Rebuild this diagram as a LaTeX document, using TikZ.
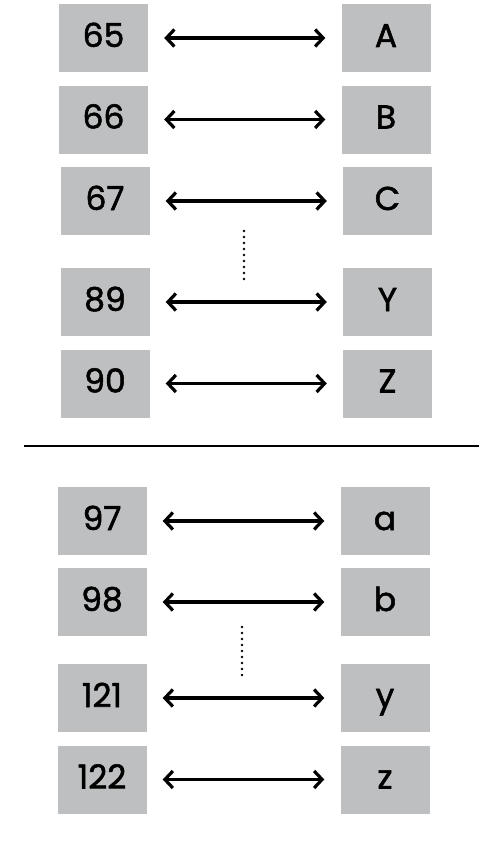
\documentclass[tikz,border=0pt]{standalone}
\usepackage{fontspec}
\newfontfamily\boxfont{Poppins}[FakeBold=1.6]
\usetikzlibrary{arrows.meta}
\definecolor{boxgray}{RGB}{190,191,193}
\begin{document}
\begin{tikzpicture}[x=1pt,y=-1pt,
        box/.style={fill=boxgray,minimum width=89pt,minimum height=68pt,inner sep=0pt,text height=24pt,text depth=6pt,font=\boxfont\fontsize{33}{36}\selectfont},
        link/.style={line width=3.2pt,{Straight Barb[length=8pt,width=17pt]}-{Straight Barb[length=8pt,width=17pt]},shorten <=16pt,shorten >=16pt},
        dots/.style={line width=2.8pt,line cap=round,dash pattern=on 0pt off 6pt}]
    \useasboundingbox (0,0) rectangle (496,843);
    \foreach \n/\c/\xl/\xr/\y in {65/A/103.5/386/38,66/B/103.5/386/119.5,67/C/105/387.5/201,89/Y/105/387.5/302,90/Z/105/387.5/383.5,97/a/102/385/521,98/b/102/385/602,121/y/102/385/698,122/z/102/385/779.5}{
        \node[box] (n\n) at (\xl,\y) {\n};
        \node[box] (c\c) at (\xr,\y) {\c};
        \draw[link] (n\n) -- (c\c);
    }
    \draw[dots] (244,231) -- (244,279);
    \draw[dots] (242,627) -- (242,676);
    \draw[line width=1.4pt] (24,446) -- (479,446);
\end{tikzpicture}
\end{document}
